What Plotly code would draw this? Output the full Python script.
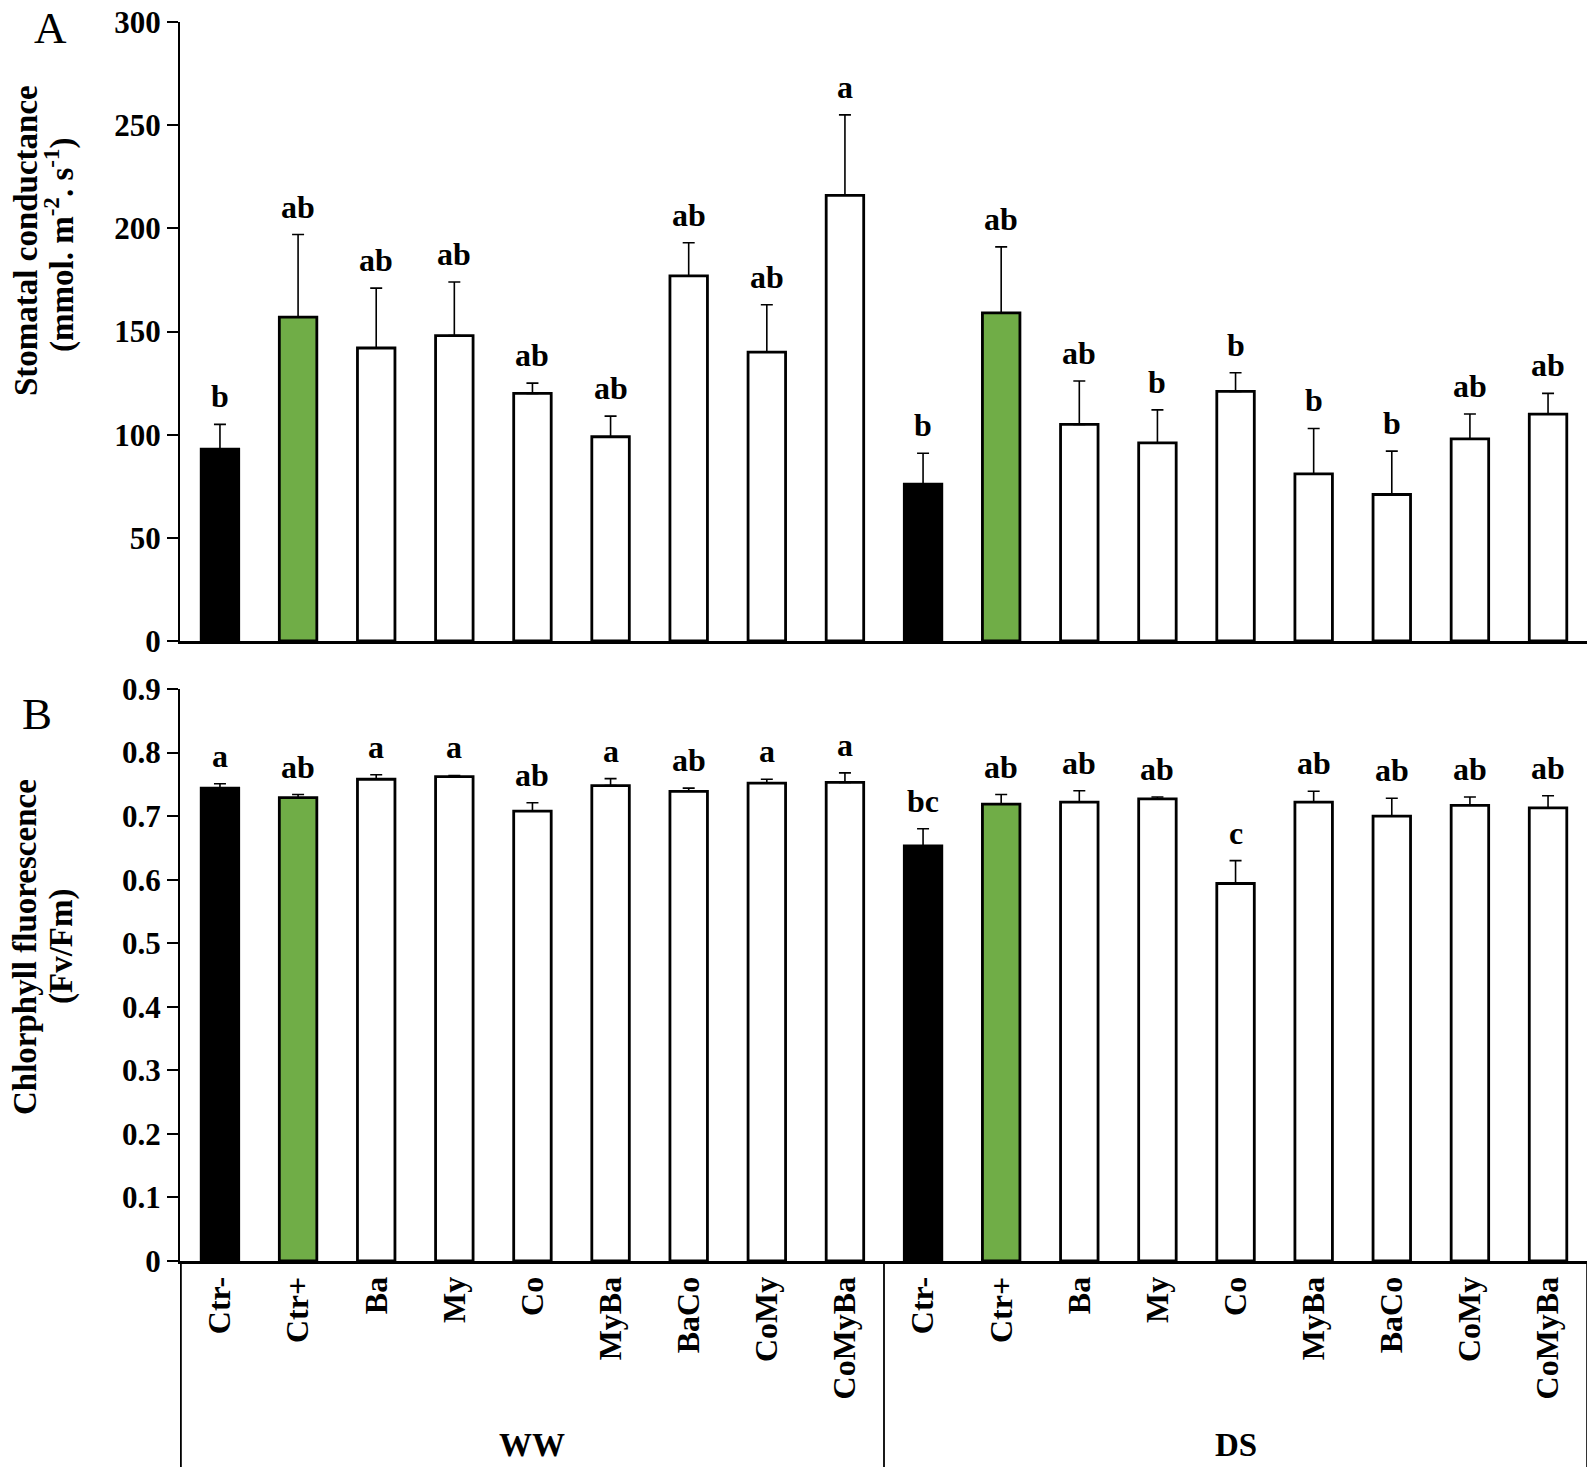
import plotly.graph_objects as go

# treatments, repeated for the two water regimes
treatments = ["Ctr-", "Ctr+", "Ba", "My", "Co", "MyBa", "BaCo", "CoMy", "CoMyBa"]
regimes = ["WW", "DS"]

# panel A: stomatal conductance (mmol m-2 s-1)
gs_mean = [93, 157, 142, 148, 120, 99, 177, 140, 216,
           76, 159, 105, 96, 121, 81, 71, 98, 110]
gs_err = [12, 40, 29, 26, 5, 10, 16, 23, 39,
          15, 32, 21, 16, 9, 22, 21, 12, 10]
gs_letters = ["b", "ab", "ab", "ab", "ab", "ab", "ab", "ab", "a",
              "b", "ab", "ab", "b", "b", "b", "b", "ab", "ab"]

# panel B: chlorophyll fluorescence (Fv/Fm)
fv_mean = [0.744, 0.729, 0.758, 0.762, 0.708, 0.748, 0.739, 0.752, 0.753,
           0.653, 0.719, 0.722, 0.727, 0.594, 0.722, 0.700, 0.717, 0.713]
fv_err = [0.007, 0.005, 0.007, 0.002, 0.013, 0.011, 0.005, 0.006, 0.015,
          0.027, 0.015, 0.018, 0.003, 0.036, 0.017, 0.028, 0.013, 0.019]
fv_letters = ["a", "ab", "a", "a", "ab", "a", "ab", "a", "a",
              "bc", "ab", "ab", "ab", "c", "ab", "ab", "ab", "ab"]

FONT = "Liberation Serif"
GREEN = "#70AD47"
# the page body adds an 8px margin, so the figure is 8px smaller than the window
W, H = 1587, 1465
L, R, T, B = 172, 7, 14, 212
PLOT_W = W - L - R
PLOT_H = H - T - B

keys = [f"{r} {t}" for r in regimes for t in treatments]
labels = [t for r in regimes for t in treatments]
colors = [{"Ctr-": "black", "Ctr+": GREEN}.get(t, "white") for t in labels]


def py(p):
    # pixel row -> paper y
    return (H - B - p) / PLOT_H


def px(p):
    # pixel column -> paper x
    return (p - L) / PLOT_W


fig = go.Figure()


def add_panel(means, errs, letters, xa, ya):
    fig.add_trace(go.Bar(
        x=keys, y=means, xaxis=xa, yaxis=ya,
        marker=dict(color=colors, line=dict(color="black", width=2.8)),
        error_y=dict(type="data", array=errs, arrayminus=[0] * len(errs),
                     symmetric=False, color="black", thickness=1.6, width=6),
        showlegend=False,
    ))
    for k, m, e, s in zip(keys, means, errs, letters):
        fig.add_annotation(
            x=k, y=m + e, xref=xa, yref=ya, text=f"<b>{s}</b>",
            showarrow=False, yanchor="bottom", yshift=8,
            font=dict(family=FONT, size=32, color="black"),
        )


add_panel(gs_mean, gs_err, gs_letters, "x", "y")
add_panel(fv_mean, fv_err, fv_letters, "x2", "y2")

common_y = dict(
    showline=True, linecolor="black", linewidth=2, ticks="outside",
    ticklen=11, tickwidth=2, tickcolor="black", showgrid=False,
    zeroline=False, automargin=False, ticklabeloverflow="allow",
    tickfont=dict(family=FONT, size=31, color="black", weight="bold"),
)

fig.update_layout(
    width=W, height=H,
    margin=dict(l=L, r=R, t=T, b=B),
    plot_bgcolor="white", paper_bgcolor="white",
    bargap=0.52,
    font=dict(family=FONT, color="black"),
    xaxis=dict(domain=[0, 1], anchor="y", matches="x2", showticklabels=False,
               showline=True, linecolor="black", linewidth=2.5, ticks="",
               automargin=False),
    yaxis=dict(domain=[py(633), 1], range=[0, 300], dtick=50, **common_y),
    xaxis2=dict(domain=[0, 1], anchor="y2", showline=True, linecolor="black",
                linewidth=3, ticks="", tickangle=-90, tickvals=keys,
                ticktext=[f"<b>{t}</b>" for t in labels],
                tickfont=dict(family=FONT, size=32, color="black"),
                ticklabelstandoff=0, automargin=False),
    yaxis2=dict(domain=[0, py(681)], range=[0, 0.9], dtick=0.1, **common_y),
)

# y-axis titles, two lines each, set as rotated text
y_titles = [
    ("Stomatal conductance", 18, 233),
    ("(mmol. m<sup>-2</sup>. s<sup>-1</sup>)", 51, 237),
    ("Chlorphyll fluorescence", 17, 939),
    ("(Fv/Fm)", 53, 939),
]
for txt, cx, cy in y_titles:
    fig.add_annotation(
        x=px(cx), y=py(cy), xref="paper", yref="paper", text=f"<b>{txt}</b>",
        textangle=-90, showarrow=False, xanchor="center", yanchor="middle",
        font=dict(family=FONT, size=33, color="black"),
    )

# group dividers and regime labels below the bottom axis
n = len(treatments)
for xpos in [-0.5, n - 0.5, 2 * n - 0.5]:
    fig.add_shape(type="line", xref="x2", yref="paper", x0=xpos, x1=xpos,
                  y0=0, y1=py(1459), line=dict(color="black", width=1.8))

for i, r in enumerate(regimes):
    fig.add_annotation(
        x=i * n + (n - 1) / 2, y=py(1437), xref="x2", yref="paper",
        text=f"<b>{r}</b>", showarrow=False, yanchor="middle",
        font=dict(family=FONT, size=33, color="black"),
    )

# panel letters
for txt, cx, cy in [("A", 42, 20), ("B", 29, 706)]:
    fig.add_annotation(
        x=px(cx), y=py(cy), xref="paper", yref="paper", text=txt,
        showarrow=False, xanchor="center", yanchor="middle",
        font=dict(family=FONT, size=45, color="black"),
    )

fig.write_html("out.html")
